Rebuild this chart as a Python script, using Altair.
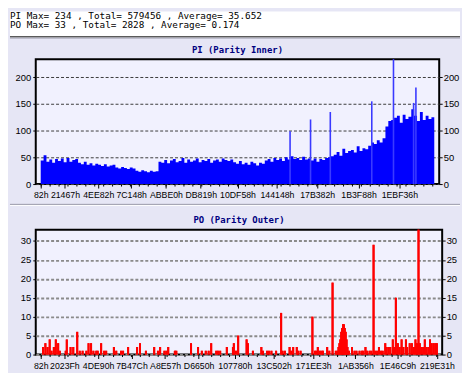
import altair as alt
import pandas as pd

# ---------------- data ----------------
header_lines = [
    "PI Max= 234 , Total= 579456 , Average= 35.652",
    "PO Max= 33 , Total= 2828 , Average= 0.174",
]
pi_title = "PI (Parity Inner)"
po_title = "PO (Parity Outer)"

pi_tick_labels = ["82h", "21467h", "4EE82h", "7C148h", "ABBE0h", "DB819h",
                  "10DF58h", "144148h", "17B382h", "1B3F88h", "1EBF36h"]
po_tick_labels = ["82h", "2023Fh", "4DE90h", "7B47Ch", "A8E57h", "D6650h",
                  "107780h", "13C502h", "171EE3h", "1AB356h", "1E46C9h", "219E31h"]
pi_y_ticks = [0, 50, 100, 150, 200]
po_y_ticks = [0, 5, 10, 15, 20, 25, 30]
pi_max = 234
po_max = 33
pi_lba_end = 2211000
po_lba_end = 2205000

# PI samples, one per 16140 sectors
pi_step = 16140
pi_values = [
    44, 54, 42, 46, 40, 47, 43, 48, 41, 49, 42, 45, 47,
    40, 37, 42, 36, 39, 35, 38, 36, 34, 37, 33, 35, 36,
    31, 29, 32, 30, 28, 31, 29,
    25, 23, 26, 24, 22, 25, 23, 24,
    42, 40, 45, 39, 44, 47, 41, 43, 49, 40, 46, 42, 44, 48, 41, 45, 43, 47, 40, 44, 46, 42, 48, 45, 43, 46,
    41, 38, 43, 37, 40, 36, 42, 39, 35, 40, 38,
    44, 47, 42, 49, 45, 48, 43, 50, 46, 52, 47, 49, 45, 51,
    46, 48, 44, 48, 42, 47, 45, 49, 50, 52,
    55, 60, 53, 66, 58, 62,
    64, 59, 71, 62, 67, 65,
    72, 78, 75, 82, 78, 86,
    108, 118, 120, 124, 128, 115, 130, 122, 126, 140, 128, 118, 135, 120, 128, 122, 125,
]
pi_spike_lba = [1401000, 1516000, 1627000, 1860000, 1982000, 2095000, 2108000]
pi_spike_val = [99, 121, 135, 155, 234, 152, 181]

po_lba = [
    13000, 26000, 38000, 50000, 60000, 73000, 84000, 97000, 106000, 139000,
    145000, 166000, 181000, 203000, 217000, 233000, 254000, 266000, 280000, 293000,
    309000, 317000, 336000, 353000, 364000, 407000, 420000, 447000, 458000, 486000,
    536000, 552000, 585000, 631000, 652000, 664000, 688000, 699000, 709000, 746000,
    754000, 836000, 875000, 896000, 918000, 934000, 948000, 976000, 986000, 998000,
    1035000, 1069000, 1074000, 1086000, 1098000, 1145000, 1152000, 1180000, 1227000, 1236000,
    1259000, 1269000, 1283000, 1309000, 1337000, 1345000, 1358000, 1384000, 1393000, 1404000,
    1424000, 1431000, 1445000, 1511000, 1525000, 1533000, 1541000, 1552000, 1562000, 1570000,
    1593000, 1605000, 1623000, 1641000, 1651000,
    1656000, 1661000, 1666000, 1671000, 1676000, 1681000, 1686000, 1691000, 1696000, 1701000, 1706000,
    1714000, 1731000, 1745000, 1756000, 1773000, 1786000, 1794000, 1806000, 1815000, 1829000,
    1839000, 1851000, 1860000, 1871000, 1881000, 1892000, 1902000, 1916000, 1923000, 1934000,
    1944000, 1958000, 1965000, 1975000, 1986000, 1996000, 2007000, 2017000, 2031000, 2038000,
    2052000, 2064000, 2075000, 2084000, 2092000, 2101000, 2108000, 2117000, 2127000, 2136000,
    2145000, 2156000, 2165000, 2174000, 2185000, 2195000, 2203000,
]
po_val = [
    2, 3, 2, 4, 1, 2, 4, 3, 1, 1,
    4, 2, 2, 6, 1, 1, 1, 3, 3, 1,
    1, 1, 3, 1, 1, 2, 1, 1, 1, 2,
    2, 3, 1, 2, 1, 2, 1, 1, 2, 1,
    1, 3, 2, 1, 1, 1, 3, 1, 1, 1,
    2, 2, 3, 1, 5, 4, 3, 1, 2, 1,
    1, 1, 1, 1, 11, 1, 1, 2, 1, 2,
    2, 1, 1, 10, 1, 1, 2, 1, 1, 1,
    2, 1, 19, 1, 1,
    2, 3, 4, 6, 7, 8, 8, 7, 6, 4, 2,
    1, 2, 1, 1, 1, 1, 1, 2, 1, 1,
    1, 29, 1, 1, 2, 1, 1, 3, 2, 2,
    2, 4, 2, 15, 3, 2, 4, 2, 4, 2,
    3, 3, 2, 4, 3, 33, 3, 2, 2, 4,
    2, 2, 4, 3, 3, 3, 3,
]

# ---------------- styling ----------------
W = 454          # full chart width (page body width)
LEFT = 26        # left axis extent (plot origin offset)
BG = "#E6E6F5"
PLOT_BG = "#F1F1FE"
AXIS_FONT = "Liberation Sans"
label_expr = "format(datum.value, 'X') + 'h'"

pi_tick_lba = [int(s.rstrip("h"), 16) for s in pi_tick_labels]
po_tick_lba = [int(s.rstrip("h"), 16) for s in po_tick_labels]

one = pd.DataFrame({"k": [0]})


def x_label_axis(values):
    return alt.Axis(values=values, labelExpr=label_expr, labelFont=AXIS_FONT,
                    labelFontSize=8.8, labelColor="black", tickColor="black",
                    tickSize=4, labelPadding=3, domain=False, grid=False,
                    labelOverlap=False, labelFlush=False, labelBound=False, title=None)


def x_minor_axis():
    return alt.Axis(orient="bottom", tickCount=50, labels=False, tickSize=2,
                    tickColor="black", domain=False, grid=False, title=None)


def y_axis(values, orient, grid, gdash, gcolor, gwidth):
    kw = dict(values=values, orient=orient, labelFont=AXIS_FONT, labelFontSize=9.5,
              labelColor="black", tickColor="black", tickSize=3, labelPadding=2,
              domain=False, title=None, labelFlush=False)
    if orient == "left":
        kw["minExtent"] = LEFT
        kw["maxExtent"] = LEFT
    else:
        kw["labelPadding"] = 1
    if grid:
        kw.update(grid=True, gridDash=gdash, gridColor=gcolor, gridWidth=gwidth)
    else:
        kw["grid"] = False
    return alt.Axis(**kw)


# ---------------- header ----------------
header = alt.layer(
    alt.Chart(one).mark_rect(color="white").encode(
        x=alt.value(-LEFT), x2=alt.value(W - LEFT), y=alt.value(0), y2=alt.value(25)),
    alt.Chart(one).mark_rule(color="#5a5a5a", strokeWidth=1.5).encode(
        x=alt.value(-LEFT), x2=alt.value(W - LEFT), y=alt.value(25.5)),
    alt.Chart(one).mark_rule(color="#b4b4c4", strokeWidth=1).encode(
        x=alt.value(-LEFT), x2=alt.value(W - LEFT), y=alt.value(27)),
    alt.Chart(pd.DataFrame({"t": [header_lines[0]]})).mark_text(
        align="left", baseline="top", font="DejaVu Sans Mono", fontSize=9.4, color="black"
    ).encode(text="t:N", x=alt.value(-LEFT), y=alt.value(0)),
    alt.Chart(pd.DataFrame({"t": [header_lines[1]]})).mark_text(
        align="left", baseline="top", font="DejaVu Sans Mono", fontSize=9.4, color="black"
    ).encode(text="t:N", x=alt.value(-LEFT), y=alt.value(10)),
).properties(width=W - LEFT, height=33, view=alt.ViewBackground(stroke="transparent"))

# ---------------- PI ----------------
n = len(pi_values)
pi_df = pd.DataFrame({
    "lba": [i * pi_step for i in range(n + 1)],
    "pi": pi_values + [pi_values[-1]],
})
spike_df = pd.DataFrame({"lba": pi_spike_lba, "pi": pi_spike_val})
x_pi = alt.Scale(domain=[0, pi_lba_end], nice=False, zero=False)
y_pi = alt.Scale(domain=[0, pi_max], nice=False)

pi_bars = alt.Chart(pi_df).mark_area(color="#0000FF", interpolate="step-after", opacity=1).encode(
    x=alt.X("lba:Q", scale=x_pi, axis=x_label_axis(pi_tick_lba)),
    y=alt.Y("pi:Q", scale=y_pi, axis=y_axis(pi_y_ticks, "left", True, [3, 2], "#3c3c3c", 1)),
)
pi_spikes = alt.Chart(spike_df).mark_bar(size=1.6, color="#3A3AFF").encode(
    x=alt.X("lba:Q", scale=x_pi, axis=x_minor_axis()),
    y=alt.Y("pi:Q", scale=y_pi, axis=y_axis(pi_y_ticks, "right", False, None, None, None)),
)
pi_chart = alt.layer(pi_bars, pi_spikes).resolve_axis(x="independent", y="independent").properties(
    width=407, height=126,
    title=alt.TitleParams(pi_title, font="DejaVu Sans Mono", fontSize=9, fontWeight="bold",
                          color="#000080", anchor="middle", frame="group", offset=4),
    view=alt.ViewBackground(fill=PLOT_BG, stroke="black", strokeWidth=2),
)

# ---------------- separator ----------------
sep = alt.layer(
    alt.Chart(one).mark_rule(color="#8c8c9c", strokeWidth=1).encode(
        x=alt.value(-LEFT), x2=alt.value(W - LEFT), y=alt.value(2.5)),
    alt.Chart(one).mark_rule(color="white", strokeWidth=1).encode(
        x=alt.value(-LEFT), x2=alt.value(W - LEFT), y=alt.value(3.5)),
).properties(width=W - LEFT, height=12, view=alt.ViewBackground(stroke="transparent"))

# ---------------- PO ----------------
po_df = pd.DataFrame({"lba": po_lba, "po": po_val})
x_po = alt.Scale(domain=[0, po_lba_end], nice=False, zero=False)
y_po = alt.Scale(domain=[0, po_max], nice=False)

po_left = alt.Chart(po_df).mark_bar(size=2, color="#FF0000").encode(
    x=alt.X("lba:Q", scale=x_po, axis=x_label_axis(po_tick_lba)),
    y=alt.Y("po:Q", scale=y_po, axis=y_axis(po_y_ticks, "left", True, [3, 2], "#8a8a8a", 2)),
)
po_right = alt.Chart(po_df).mark_bar(size=2, color="#FF0000").encode(
    x=alt.X("lba:Q", scale=x_po, axis=x_minor_axis()),
    y=alt.Y("po:Q", scale=y_po, axis=y_axis(po_y_ticks, "right", False, None, None, None)),
)
po_chart = alt.layer(po_left, po_right).resolve_axis(x="independent", y="independent").properties(
    width=410, height=126,
    title=alt.TitleParams(po_title, font="DejaVu Sans Mono", fontSize=9, fontWeight="bold",
                          color="#000080", anchor="middle", frame="group", offset=5),
    view=alt.ViewBackground(fill=PLOT_BG, stroke="black", strokeWidth=2),
)

chart = alt.vconcat(header, pi_chart, sep, po_chart, spacing=0).properties(
    background=BG, padding=0)

chart.save("out.html", embed_options={"renderer": "svg", "actions": False})
